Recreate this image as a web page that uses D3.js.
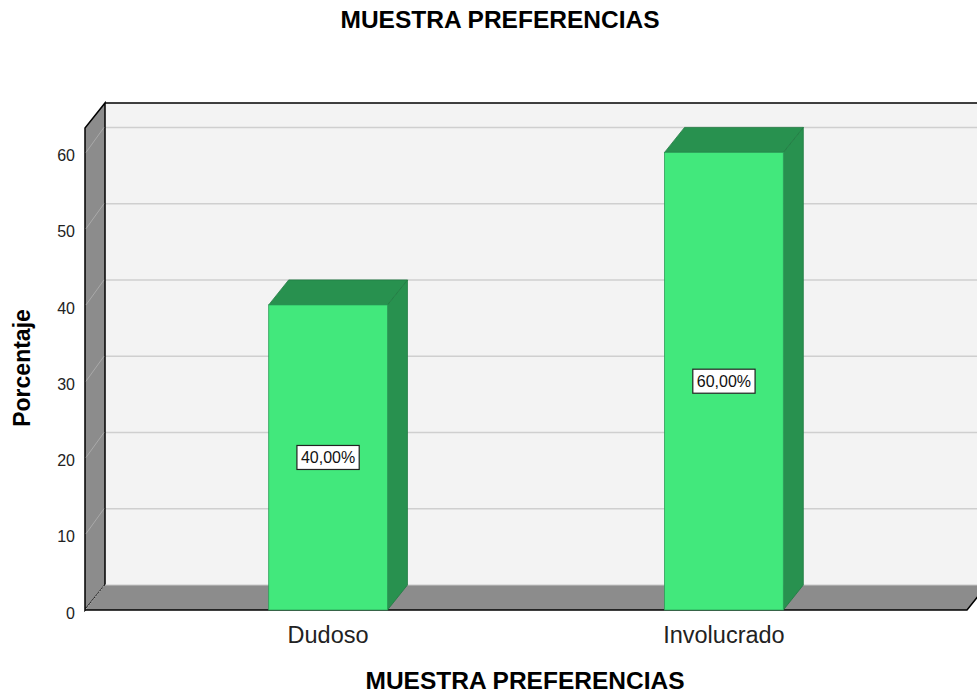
<!DOCTYPE html>
<html>
<head>
<meta charset="utf-8">
<script src="https://cdn.jsdelivr.net/npm/d3@7"></script>
<style>
  body { margin: 0; background: #fff; }
  svg { display: block; font-family: "Liberation Sans", Arial, sans-serif; }
</style>
</head>
<body>
<svg></svg>
<script>
const categories = ["Dudoso", "Involucrado"];
const values = [40, 60];
const valueLabels = ["40,00%", "60,00%"];
const yTicks = [0, 10, 20, 30, 40, 50, 60];
const yMax = 63.2;

const W = 977, H = 694;
const depthX = 20, depthY = -25;   // 3d offset of the back plane

const svg = d3.select("svg")
    .attr("width", W)
    .attr("height", H);

const x = d3.scaleBand()
    .domain(categories)
    .range([85, 967])
    .paddingInner(0.7)
    .paddingOuter(0.464);

const y = d3.scaleLinear()
    .domain([0, yMax])
    .range([610, 128]);

const plotLeft = x.range()[0], plotRight = x.range()[1];
const plotBottom = y(0), plotTop = y(yMax);

// back wall
svg.append("rect")
    .attr("x", plotLeft + depthX)
    .attr("y", plotTop + depthY)
    .attr("width", plotRight - plotLeft + 10)
    .attr("height", plotBottom - plotTop)
    .attr("fill", "#f3f3f3");

svg.selectAll(".grid")
    .data(yTicks.filter(d => d > 0))
  .enter().append("line")
    .attr("class", "grid")
    .attr("x1", plotLeft + depthX)
    .attr("x2", W)
    .attr("y1", d => y(d) + depthY)
    .attr("y2", d => y(d) + depthY)
    .attr("stroke", "#cfcfcf")
    .attr("stroke-width", 1.5);

svg.append("line")
    .attr("x1", plotLeft + depthX).attr("x2", W)
    .attr("y1", plotTop + depthY).attr("y2", plotTop + depthY)
    .attr("stroke", "#000").attr("stroke-width", 1.5);

// left wall
svg.append("path")
    .attr("d", d3.line()([
        [plotLeft, plotBottom], [plotLeft, plotTop],
        [plotLeft + depthX, plotTop + depthY], [plotLeft + depthX, plotBottom + depthY]
    ]) + "Z")
    .attr("fill", "#8c8c8c")
    .attr("stroke", "#000")
    .attr("stroke-width", 1.5);

svg.selectAll(".wallgrid")
    .data(yTicks.filter(d => d > 0))
  .enter().append("line")
    .attr("class", "wallgrid")
    .attr("x1", plotLeft + 1).attr("y1", d => y(d))
    .attr("x2", plotLeft + depthX - 1).attr("y2", d => y(d) + depthY)
    .attr("stroke", "#a9a9a9")
    .attr("stroke-width", 1);

// floor
svg.append("path")
    .attr("d", d3.line()([
        [plotLeft, plotBottom], [plotLeft + depthX, plotBottom + depthY],
        [plotRight + depthX, plotBottom + depthY], [plotRight, plotBottom]
    ]) + "Z")
    .attr("fill", "#8c8c8c");

svg.append("path")
    .attr("d", d3.line()([
        [plotLeft, plotBottom], [plotRight, plotBottom], [plotRight + depthX, plotBottom + depthY]
    ]))
    .attr("fill", "none")
    .attr("stroke", "#000")
    .attr("stroke-width", 1.5);

svg.append("line")
    .attr("x1", plotLeft + 1).attr("y1", plotBottom - 1)
    .attr("x2", plotLeft + depthX - 1).attr("y2", plotBottom + depthY + 1)
    .attr("stroke", "#b5b5b5")
    .attr("stroke-dasharray", "2,1");

svg.append("line")
    .attr("x1", plotLeft + depthX).attr("x2", W)
    .attr("y1", plotBottom + depthY).attr("y2", plotBottom + depthY)
    .attr("stroke", "#c8c8c8").attr("stroke-width", 1);

// bars
const bars = svg.selectAll(".bar")
    .data(categories.map((c, i) => ({ cat: c, value: values[i], label: valueLabels[i] })))
  .enter().append("g")
    .attr("class", "bar");

bars.append("path")
    .attr("d", d => {
        const x1 = x(d.cat) + x.bandwidth();
        return d3.line()([
            [x1, plotBottom], [x1, y(d.value)],
            [x1 + depthX, y(d.value) + depthY], [x1 + depthX, plotBottom + depthY]
        ]) + "Z";
    })
    .attr("fill", "#28914f")
    .attr("stroke", "#1f7a41")
    .attr("stroke-width", 0.8);

bars.append("path")
    .attr("d", d => {
        const x0 = x(d.cat), x1 = x0 + x.bandwidth(), yt = y(d.value);
        return d3.line()([
            [x0, yt], [x0 + depthX, yt + depthY],
            [x1 + depthX, yt + depthY], [x1, yt]
        ]) + "Z";
    })
    .attr("fill", "#28914f")
    .attr("stroke", "#1f7a41")
    .attr("stroke-width", 0.8);

bars.append("rect")
    .attr("x", d => x(d.cat))
    .attr("y", d => y(d.value))
    .attr("width", x.bandwidth())
    .attr("height", d => plotBottom - y(d.value))
    .attr("fill", "#42e87c")
    .attr("stroke", "#2c9d58")
    .attr("stroke-width", 0.8);

// value labels
bars.each(function(d) {
    const g = d3.select(this);
    const cx = x(d.cat) + x.bandwidth() / 2;
    const cy = y(d.value / 2);
    const t = g.append("text")
        .attr("x", cx)
        .attr("y", cy)
        .attr("dy", "0.35em")
        .attr("text-anchor", "middle")
        .style("font-size", "16px")
        .attr("fill", "#111")
        .text(d.label);
    const bb = t.node().getBBox();
    g.insert("rect", "text")
        .attr("x", bb.x - 4)
        .attr("y", cy - 12)
        .attr("width", bb.width + 8)
        .attr("height", 24)
        .attr("fill", "#fff")
        .attr("stroke", "#222")
        .attr("stroke-width", 1.2);
});

// y tick labels
svg.selectAll(".ytick")
    .data(yTicks)
  .enter().append("text")
    .attr("class", "ytick")
    .attr("x", plotLeft - 10)
    .attr("y", d => y(d) + 3)
    .attr("dy", "0.35em")
    .attr("text-anchor", "end")
    .style("font-size", "16px")
    .attr("fill", "#222")
    .text(d => d);

// category labels
svg.selectAll(".xtick")
    .data(categories)
  .enter().append("text")
    .attr("class", "xtick")
    .attr("x", d => x(d) + x.bandwidth() / 2)
    .attr("y", 643)
    .attr("text-anchor", "middle")
    .style("font-size", "23.5px")
    .attr("fill", "#222")
    .text(d => d);

svg.append("text")
    .attr("x", 500)
    .attr("y", 28)
    .attr("text-anchor", "middle")
    .style("font-size", "24.5px")
    .style("font-weight", "bold")
    .text("MUESTRA PREFERENCIAS");

svg.append("text")
    .attr("x", 525)
    .attr("y", 689)
    .attr("text-anchor", "middle")
    .style("font-size", "24.5px")
    .style("font-weight", "bold")
    .text("MUESTRA PREFERENCIAS");

svg.append("text")
    .attr("transform", "translate(30,368) rotate(-90)")
    .attr("text-anchor", "middle")
    .style("font-size", "23px")
    .style("font-weight", "bold")
    .text("Porcentaje");
</script>
</body>
</html>
